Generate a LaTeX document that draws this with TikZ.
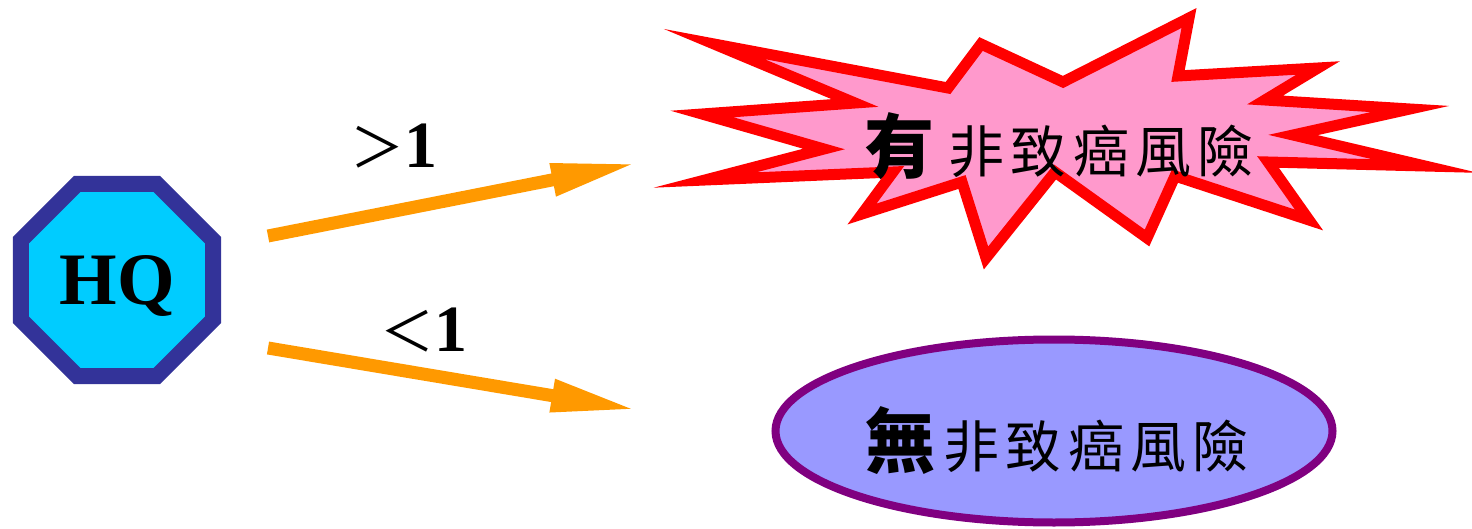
\documentclass[tikz,border=0pt]{standalone}
\usepackage{fontspec}
\setmainfont{Liberation Serif}
\newfontfamily\cjk{Noto Sans CJK TC}
\usetikzlibrary{shapes.geometric, arrows.meta, positioning}

\definecolor{hqfill}{HTML}{00CCFF}
\definecolor{hqline}{HTML}{333399}
\definecolor{starfill}{HTML}{FF99CC}
\definecolor{starline}{HTML}{FF0000}
\definecolor{ellfill}{HTML}{9999FF}
\definecolor{ellline}{HTML}{800080}
\definecolor{judgeor}{HTML}{FF9900}

\newcommand{\cjkgap}{\hspace{6.5pt}}

\begin{document}
\begin{tikzpicture}[
  x=1pt, y=-1pt,
  hqnode/.style={draw=hqline, fill=hqfill, line width=16pt, regular polygon, regular polygon sides=8, minimum size=208pt, inner sep=0pt, text depth=0pt, font=\fontsize{74}{74}\selectfont\bfseries},
  riskstar/.style={draw=starline, fill=starfill, line width=11pt, miter limit=20},
  norisk/.style={draw=ellline, fill=ellfill, line width=8pt, ellipse, minimum width=557pt, minimum height=183pt, inner sep=0pt},
  risktext/.style={font=\fontsize{56}{56}\selectfont\cjk, inner sep=0pt},
  cmplabel/.style={font=\fontsize{66}{66}\selectfont\bfseries, inner sep=0pt},
  judge/.style={line width=13pt, draw=judgeor, -{Triangle[length=87pt, width=30pt]}}
]
\useasboundingbox (0,0) rectangle (1472,529);

% HQ
\node[hqnode] (HQ) at (117,280) {HQ};

% Risk burst
\draw[riskstar] (714,44) -- (948,88) -- (981,44) -- (1063,82) -- (1189,18) -- (1178,76)
  -- (1318,68) -- (1265,100) -- (1410,109) -- (1293,135) -- (1425,166) -- (1268,162)
  -- (1309,220) -- (1175,176) -- (1147,238) -- (1055,172) -- (986,258) -- (962,182)
  -- (862,214) -- (893,172) -- (705,180) -- (824,149) -- (702,114) -- (855,103) -- cycle;
\node[risktext] (riskText) at (1059,146) {{\fontsize{70}{70}\selectfont\bfseries 有}\hspace{14pt}非\cjkgap 致\cjkgap 癌\cjkgap 風\cjkgap 險};

% No risk
\node[norisk] (noRisk) at (1054,431) {};
\node[risktext] (noText) at ([xshift=3pt, yshift=-10pt]noRisk.center) {{\fontsize{70}{70}\selectfont\bfseries 無}\hspace{8pt}非\cjkgap 致\cjkgap 癌\cjkgap 風\cjkgap 險};

% Arrows
\coordinate (gtTail) at (268,236);
\coordinate (gtTip)  at (638,163);
\coordinate (ltTail) at (268,348);
\coordinate (ltTip)  at (638,410);
\draw[judge] (gtTail) -- (gtTip);
\draw[judge] (ltTail) -- (ltTip);

\node[cmplabel] (gtLabel) at (394,146) {{\cjk\mdseries\fontsize{54}{54}\selectfont ＞}1};
\node[cmplabel] (ltLabel) at (424,330) {{\cjk\mdseries\fontsize{54}{54}\selectfont ＜}1};
\end{tikzpicture}
\end{document}
